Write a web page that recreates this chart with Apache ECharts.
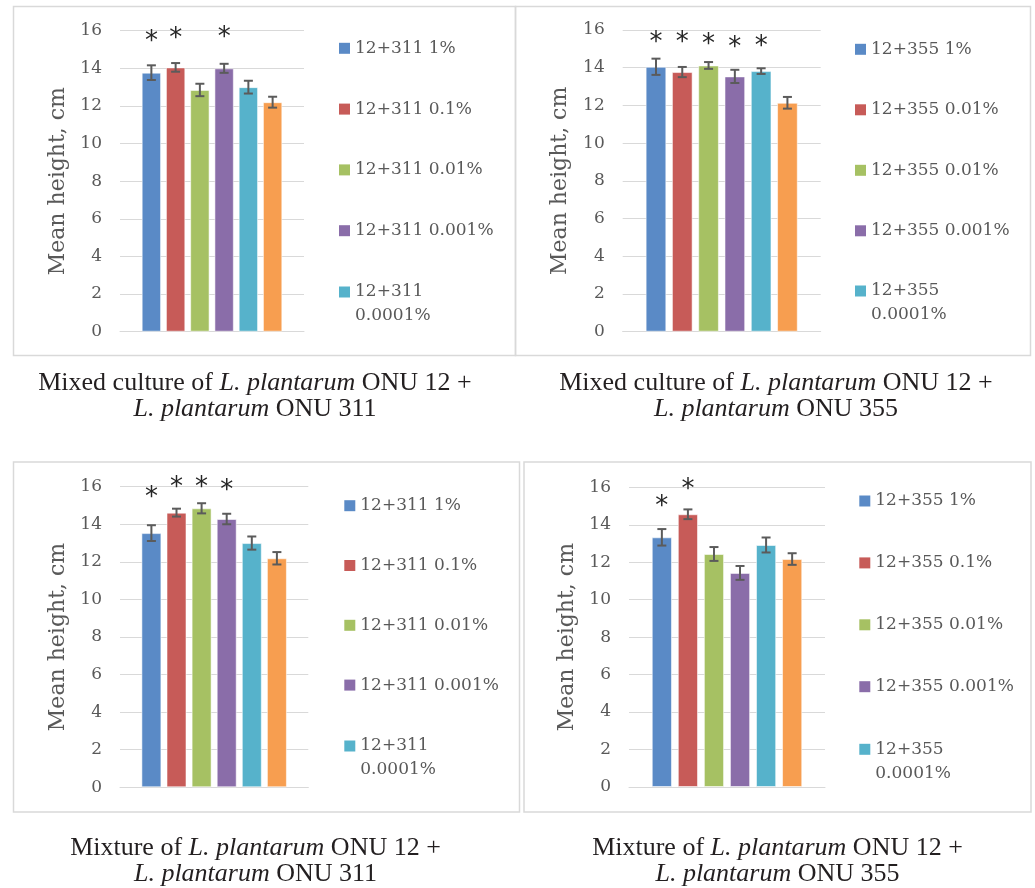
<!DOCTYPE html>
<html>
<head>
<meta charset="utf-8">
<title>Mean height, cm</title>
<script src="https://cdn.jsdelivr.net/npm/echarts@6/dist/echarts.min.js"></script>
<style>
  html, body { margin: 0; padding: 0; background: #ffffff; }
  #chart { width: 1035px; height: 888px; }
</style>
</head>
<body>
<div id="chart"></div>
<script>
// Treatment colours (1%, 0.1%, 0.01%, 0.001%, 0.0001%, ONU 12 alone)
const barColors = ['#5a8ac6', '#c75b58', '#a6c163', '#8a6da9', '#56b2cb', '#f79e50'];

// Series names per panel (the orange control is not listed in the legends)
const names311 = ['12+311 1%', '12+311 0.1%', '12+311 0.01%', '12+311 0.001%', '12+311 0.0001%', '12'];
const names355Mixed = ['12+355 1%', '12+355 0.01% ', '12+355 0.01%', '12+355 0.001%', '12+355 0.0001%', '12'];
const names355Mixture = ['12+355 1%', '12+355 0.1%', '12+355 0.01%', '12+355 0.001%', '12+355 0.0001%', '12'];

// Mixed culture ONU 12 + ONU 311
const meanMixed311 = [13.77, 14.05, 12.85, 14.0, 13.0, 12.2];
const errMixed311  = [0.39, 0.23, 0.33, 0.24, 0.34, 0.29];
const starMixed311 = [15.72, 15.92, null, 15.94, null, null];

// Mixed culture ONU 12 + ONU 355
const meanMixed355 = [14.05, 13.77, 14.12, 13.54, 13.82, 12.14];
const errMixed355  = [0.43, 0.27, 0.18, 0.35, 0.15, 0.31];
const starMixed355 = [15.68, 15.64, 15.54, 15.38, 15.43, null];

// Mixture ONU 12 + ONU 311
const meanMixture311 = [13.53, 14.62, 14.85, 14.28, 13.0, 12.19];
const errMixture311  = [0.42, 0.21, 0.27, 0.28, 0.35, 0.33];
const starMixture311 = [15.74, 16.26, 16.26, 16.14, null, null];

// Mixture ONU 12 + ONU 355
const meanMixture355 = [13.33, 14.56, 12.44, 11.43, 12.92, 12.17];
const errMixture355  = [0.44, 0.26, 0.37, 0.37, 0.40, 0.31];
const starMixture355 = [15.27, 16.21, null, null, null, null];

// Value axis ticks
const yMin = 0, yMax = 16, yStep = 2;
const yTitle = 'Mean height, cm';

// Panel captions (rich text: n = roman, i = italic)
const captions = [
  '{n|Mixed culture of }{i|L. plantarum}{n| ONU 12 +}\n{i|L. plantarum}{n| ONU 311}',
  '{n|Mixed culture of }{i|L. plantarum}{n| ONU 12 +}\n{i|L. plantarum}{n| ONU 355}',
  '{n|Mixture of }{i|L. plantarum}{n| ONU 12 +}\n{i|L. plantarum}{n| ONU 311}',
  '{n|Mixture of }{i|L. plantarum}{n| ONU 12 +}\n{i|L. plantarum}{n| ONU 355}'
];

const panels = [
  { names: names311,        means: meanMixed311,   errs: errMixed311,   stars: starMixed311 },
  { names: names355Mixed,   means: meanMixed355,   errs: errMixed355,   stars: starMixed355 },
  { names: names311,        means: meanMixture311, errs: errMixture311, stars: starMixture311 },
  { names: names355Mixture, means: meanMixture355, errs: errMixture355, stars: starMixture355 }
];

// Layout of each panel
const layouts = [
  { grid: { left: 120,   top: 30.7,  width: 184,   height: 301 },   barWidth: 19.4, barGap: '25%',
    legendLeft: 339,   legendTop: 36.3,  legendGap: 36.8, tailTop: 256,
    frame: [13.5, 6.5, 502, 349],  capX: 255,   capY: 370 },
  { grid: { left: 622.7, top: 30,    width: 198,   height: 301.7 }, barWidth: 20.7, barGap: '27%',
    legendLeft: 855,   legendTop: 37.3,  legendGap: 36.5, tailTop: 255,
    frame: [515.5, 6.5, 515, 349], capX: 776,   capY: 370 },
  { grid: { left: 120,   top: 486.7, width: 188.3, height: 300.6 }, barWidth: 20.0, barGap: '25.5%',
    legendLeft: 344.3, legendTop: 493.7, legendGap: 35.8, tailTop: 710,
    frame: [13.5, 462, 506, 350],  capX: 255.5, capY: 835 },
  { grid: { left: 629,   top: 487.3, width: 196,   height: 299.7 }, barWidth: 20.2, barGap: '29%',
    legendLeft: 859.3, legendTop: 489,   legendGap: 37.9, tailTop: 713.3,
    frame: [524, 462, 507, 350],   capX: 777.5, capY: 835 }
];

const grayText = '#595959';
const gridGray = '#d9d9d9';
const labelFont = 'DejaVu Serif';
const captionFont = 'Liberation Serif';
const captionSize = 26;
const starFontSize = 26;

const option = {
  animation: false,
  backgroundColor: '#ffffff',
  grid: [], xAxis: [], yAxis: [], legend: [], title: [], series: [],
  graphic: []
};

panels.forEach((p, k) => {
  const L = layouts[k];
  option.grid.push(Object.assign({}, L.grid));

  option.xAxis.push({
    type: 'category', gridIndex: k, data: [''],
    axisLine: { show: true, lineStyle: { color: gridGray, width: 1 } },
    axisTick: { show: false }, axisLabel: { show: false }, splitLine: { show: false }
  });

  option.yAxis.push({
    type: 'value', gridIndex: k, min: yMin, max: yMax, interval: yStep,
    name: yTitle, nameLocation: 'middle', nameGap: 51,
    nameTextStyle: { fontFamily: labelFont, fontSize: 22, color: grayText },
    axisLine: { show: false }, axisTick: { show: false },
    axisLabel: { margin: 18, fontFamily: labelFont, fontSize: 17, color: grayText },
    splitLine: { lineStyle: { color: gridGray, width: 1 } }
  });

  const legendBase = {
    orient: 'vertical', left: L.legendLeft, padding: 0,
    itemWidth: 11, itemHeight: 11, icon: 'rect', selectedMode: false,
    itemStyle: { borderWidth: 0 },
    textStyle: { fontFamily: labelFont, fontSize: 17, color: grayText, lineHeight: 24 }
  };
  option.legend.push(Object.assign({}, legendBase, {
    top: L.legendTop, itemGap: L.legendGap, data: p.names.slice(0, 4)
  }));
  // last legend entry wraps onto two lines, first line level with its swatch
  option.legend.push(Object.assign({}, legendBase, {
    top: L.tailTop, data: [p.names[4]],
    formatter: (n) => '\n' + n.replace(' ', '\n')
  }));

  p.means.forEach((m, i) => {
    option.series.push({
      type: 'bar', name: p.names[i], xAxisIndex: k, yAxisIndex: k,
      data: [m], barWidth: L.barWidth, barGap: L.barGap,
      itemStyle: { color: barColors[i], borderColor: 'rgba(255,255,255,0.55)', borderWidth: 1 },
      emphasis: { disabled: true }
    });
  });

  // error bars and significance asterisks, placed on the bar slots
  option.series.push({
    type: 'custom', xAxisIndex: k, yAxisIndex: k, z: 3, silent: true,
    encode: { x: 0, y: 1 },
    data: p.means.map((m, i) => [0, m, p.errs[i], p.stars[i] == null ? NaN : p.stars[i], i]),
    renderItem: function (params, api) {
      const cat = api.value(0);
      const mean = api.value(1), err = api.value(2), star = api.value(3), idx = api.value(4);
      const slots = api.barLayout({ barWidth: L.barWidth, barGap: L.barGap, count: p.means.length });
      const x = api.coord([cat, mean])[0] + slots[idx].offsetCenter;
      const yHi = api.coord([cat, mean + err])[1];
      const yLo = api.coord([cat, mean - err])[1];
      const cap = 4.5;
      const st = { stroke: '#5b5b5b', lineWidth: 2 };
      const children = [
        { type: 'line', shape: { x1: x, y1: yHi, x2: x, y2: yLo }, style: st },
        { type: 'line', shape: { x1: x - cap, y1: yHi, x2: x + cap, y2: yHi }, style: st },
        { type: 'line', shape: { x1: x - cap, y1: yLo, x2: x + cap, y2: yLo }, style: st }
      ];
      if (!isNaN(star)) {
        const ys = api.coord([cat, star])[1];
        children.push({
          type: 'text', x: x, y: ys + starFontSize * 0.26,
          style: { text: '*', fill: '#262626', fontSize: starFontSize, fontFamily: 'DejaVu Sans',
                   align: 'center', verticalAlign: 'middle' }
        });
      }
      return { type: 'group', children: children };
    }
  });

  const capStyle = { fontFamily: captionFont, fontSize: captionSize, fontWeight: 'normal',
                     color: '#231f20', lineHeight: 26 };
  option.title.push({
    left: L.capX, top: L.capY, padding: 0,
    textAlign: 'center', textVerticalAlign: 'top',
    text: captions[k],
    textStyle: Object.assign({}, capStyle, {
      rich: {
        n: Object.assign({ align: 'center' }, capStyle),
        i: Object.assign({ align: 'center', fontStyle: 'italic' }, capStyle)
      }
    })
  });

  const f = L.frame;
  option.graphic.push({
    type: 'rect', silent: true, z: -10,
    shape: { x: f[0], y: f[1], width: f[2], height: f[3] },
    style: { fill: 'none', stroke: '#d9d9d9', lineWidth: 1.5 }
  });
});

const chart = echarts.init(document.getElementById('chart'), null, { renderer: 'canvas' });
chart.setOption(option);
</script>
</body>
</html>
